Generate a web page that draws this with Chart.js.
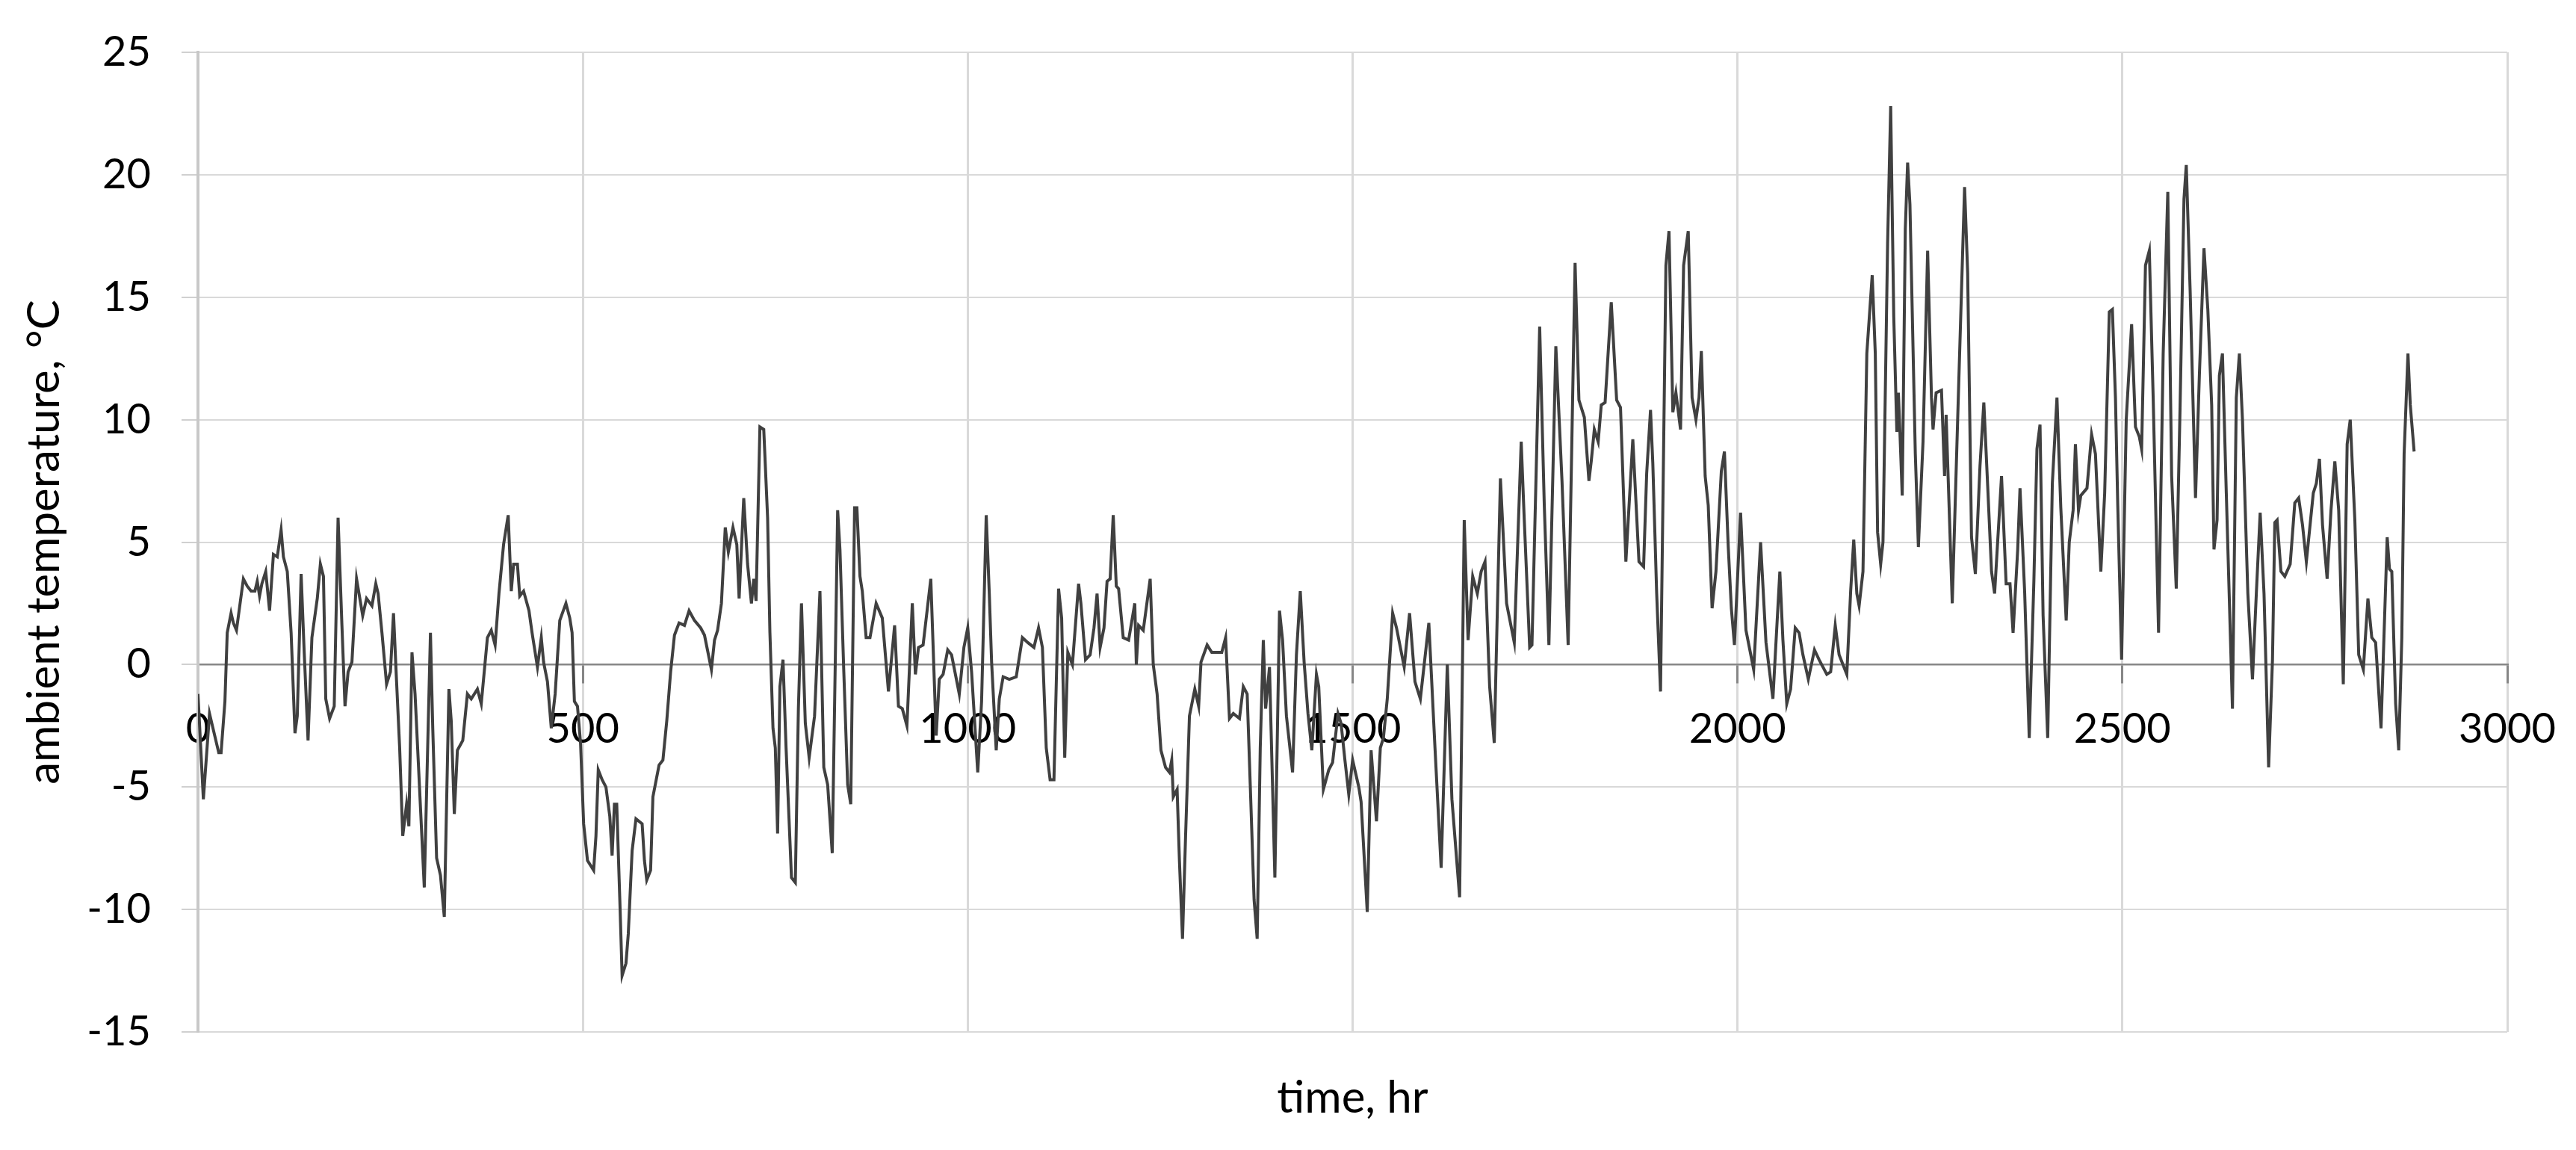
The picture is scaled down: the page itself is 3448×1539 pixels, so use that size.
<!DOCTYPE html>
<html>
<head>
<meta charset="utf-8">
<script src="https://cdn.jsdelivr.net/npm/chart.js@4.4.1/dist/chart.umd.min.js"></script>
<style>
html,body{margin:0;padding:0;background:#ffffff;}
canvas{display:block;}
</style>
</head>
<body>
<canvas id="c" width="3448" height="1539" style="width:3448px;height:1539px"></canvas>
<script>
// ---- data (time in hr, ambient temperature in °C) ----
const hoursA = [0,7,15,27,30, 35,38,43,46,50, 59,64,69,74,77, 80,83,88,93,98, 103,108,111,116,121, 126,129,134,138,143, 148,155,159,163,166, 171,177,182,187,191, 195,200,206,214,219, 226,231,234,239,245, 250,254,258,262,266, 271,274,278,282];
const tempsA = [-1.2,-5.5,-2.0,-3.6,-3.6, -1.5,1.3,2.1,1.7,1.4, 3.5,3.2,3.0,3.0,3.4, 2.8,3.3,3.8,2.2,4.5, 4.4,5.5,4.4,3.8,1.3, -2.8,-2.1,3.7,0.5,-3.1, 1.1,2.7,4.1,3.6,-1.4, -2.2,-1.7,6.0,1.6,-1.7, -0.3,0.1,3.5,2.0,2.7, 2.4,3.3,2.9,1.3,-0.8, -0.3,2.1,-0.7,-3.4,-7.0, -5.7,-6.6,0.5,-1.2];

const hoursB = [294,302,305,310,315, 320,326,329,333,337, 344,350,355,363,368, 376,381,386,391,397, 403,407,410,415,418, 423,430,434,441,446, 449,454,459,464,470, 478,483,486,489,493, 497,501,506,514,517, 520,525,530,535,538, 541,544,548,551,556, 559,564,569,577,580, 583];
const tempsB = [-9.1,1.3,-2.6,-7.9,-8.6, -10.3,-1.0,-2.3,-6.1,-3.5, -3.1,-1.2,-1.4,-1.0,-1.6, 1.1,1.4,0.8,2.9,4.9, 6.1,3.0,4.1,4.1,2.8, 3.0,2.2,1.3,-0.1,1.1, 0.1,-0.7,-2.6,-1.2,1.8, 2.5,1.9,1.3,-1.5,-1.7, -3.2,-6.5,-8.0,-8.4,-7.0, -4.3,-4.7,-5.0,-6.2,-7.8, -5.7,-5.7,-9.6,-12.7,-12.2, -11.0,-7.6,-6.3,-6.5,-8.0, -8.8];

const hoursC = [588,591,599,604,609, 614,619,625,632,638, 645,653,658,667,671, 675,680,685,689,695, 700,703,709,714,719, 722,725,730,735,740, 743,747,750,753,756, 760,764,771,776,780, 784,789,794,801,808, 813,818,824,831,834, 839,844,848,853,856, 860,863,868,873,881, 889];
const tempsC = [-8.4,-5.4,-4.1,-3.9,-2.3, -0.3,1.2,1.7,1.6,2.2, 1.8,1.5,1.2,-0.2,1.0, 1.4,2.5,5.6,4.6,5.6, 4.9,2.7,6.8,4.1,2.5, 3.5,2.6,9.7,9.6,6.0, 1.3,-2.6,-3.4,-6.9,-0.9, 0.2,-3.4,-8.7,-8.9,-1.8, 2.5,-2.4,-3.8,-2.1,3.0, -4.2,-4.9,-7.7,6.3,4.7, -0.3,-4.9,-5.7,6.4,6.4, 3.6,3.0,1.1,1.1,2.5, 1.9];

const hoursD = [897,905,910,915,921, 928,932,936,942,952, 959,963,968,974,979, 989,995,1000,1005,1013, 1018,1024,1028,1031,1037, 1041,1046,1054,1063,1071, 1078,1086,1092,1097,1102, 1107,1112,1118,1122,1126, 1130,1136,1144,1147,1153, 1159,1164,1168,1172,1177, 1181,1185,1189];
const tempsD = [-1.1,1.6,-1.7,-1.8,-2.5, 2.5,-0.4,0.7,0.8,3.5, -2.9,-0.6,-0.4,0.6,0.4, -1.2,0.7,1.5,-0.3,-4.4, -1.5,6.1,2.9,0.1,-3.5, -1.4,-0.5,-0.6,-0.5,1.1, 0.9,0.7,1.5,0.7,-3.4, -4.7,-4.7,3.1,1.9,-3.8, 0.5,0.0,3.3,2.5,0.2, 0.4,1.5,2.9,0.7,1.5, 3.4,3.5,6.1];

const hoursE = [1193,1196,1202,1209,1217, 1219,1222,1228,1237,1241, 1246,1251,1257,1262,1265, 1267,1272,1275,1279,1283, 1288,1295,1300,1303,1311, 1317,1325,1330,1335,1340, 1345,1353,1358,1363,1367, 1372,1376,1380,1384,1387, 1392,1399,1405,1409,1414, 1422,1427,1432,1437,1442, 1447,1453,1456,1462,1469, 1474,1481,1485,1490];
const tempsE = [3.2,3.1,1.1,1.0,2.5, 0.0,1.6,1.4,3.5,0.0, -1.2,-3.5,-4.2,-4.4,-3.9, -5.4,-5.1,-8.0,-11.2,-7.0, -2.1,-1.0,-1.7,0.1,0.8, 0.5,0.5,0.5,1.1,-2.2, -2.0,-2.2,-0.9,-1.2,-4.9, -9.6,-11.2,-3.4,1.0,-1.8, -0.1,-8.7,2.2,1.0,-2.1, -4.4,0.4,3.0,0.1,-2.0, -3.5,-0.4,-0.9,-5.1,-4.3, -4.0,-2.0,-2.4,-3.9];

const hoursF = [1495,1500,1508,1511,1519, 1524,1531,1536,1540,1545, 1552,1557,1567,1574,1581, 1588,1599,1607,1615,1623, 1629,1639,1645,1650,1656, 1662,1667,1672,1678,1684, 1692,1700,1710,1719,1723, 1730,1733,1743,1749,1755, 1764,1772,1780,1789];
const tempsF = [-5.3,-3.9,-5.0,-5.6,-10.1, -3.5,-6.4,-3.4,-3.0,-1.4, 2.1,1.5,-0.1,2.1,-0.7, -1.4,1.7,-3.4,-8.3,0.0, -5.5,-9.5,5.9,1.0,3.6, 2.9,3.8,4.2,-0.9,-3.2, 7.6,2.5,0.9,9.1,5.9, 0.7,0.8,13.8,6.5,0.8, 13.0,7.5,0.8,16.4];

const hoursG = [1794,1801,1807,1810,1814, 1819,1823,1828,1836,1843, 1848,1855,1864,1872,1878, 1882,1887,1890,1895,1900, 1907,1911,1916,1920,1926, 1930,1936,1941,1946,1950, 1953,1958,1962,1967,1972, 1979,1983,1988,1992,1996, 2004,2011,2021,2030,2037, 2046,2055,2059,2064,2069, 2075,2080,2085,2092];
const tempsG = [10.8,10.1,7.5,8.3,9.6, 9.1,10.6,10.7,14.8,10.8, 10.5,4.2,9.2,4.2,4.0, 7.8,10.4,8.2,2.9,-1.1, 16.3,17.7,10.3,11.1,9.6, 16.3,17.7,10.9,10.0,10.9, 12.8,7.7,6.5,2.3,3.8, 7.9,8.7,4.8,2.3,0.8, 6.2,1.4,-0.2,5.0,0.9, -1.4,3.8,1.0,-1.6,-1.0, 1.5,1.3,0.4,-0.6];

const hoursH = [2100,2106,2116,2121,2127, 2132,2142,2147,2151,2155, 2158,2163,2168,2175,2179, 2182,2186,2189,2195,2199, 2203,2207,2209,2211,2214, 2218,2221,2224,2231,2235, 2241,2247,2252,2254,2258, 2265,2269,2271,2279,2286, 2295,2299,2304,2309,2315, 2320,2325,2330,2334,2343, 2349,2354,2358,2364,2367, 2373,2379,2385,2389,2393];
const tempsH = [0.6,0.2,-0.4,-0.3,1.6, 0.4,-0.4,3.0,5.1,2.9, 2.4,3.8,12.7,15.9,12.7, 5.4,4.1,5.0,17.2,22.8, 14.2,9.5,11.1,9.5,6.9, 17.8,20.5,18.8,8.6,4.8, 9.1,16.9,10.9,9.6,11.1, 11.2,7.7,10.2,2.5,10.0, 19.5,16.0,5.2,3.7,8.1, 10.7,7.3,3.8,2.9,7.7, 3.3,3.3,1.3,4.7,7.2, 3.0,-3.0,3.4,8.8,9.8];

const hoursI = [2397,2403,2409,2415,2420, 2427,2431,2436,2439,2443, 2446,2454,2460,2465,2472, 2477,2483,2487,2491,2494, 2499,2505,2512,2517,2522, 2525,2530,2535,2540,2547, 2553,2559,2564,2570,2575, 2580,2583,2588,2595,2600, 2606,2611,2616,2619,2623, 2626,2630,2635,2643,2648, 2652,2656,2663,2669,2674, 2679,2684,2690];
const tempsI = [2.0,-3.0,7.4,10.9,6.4, 1.8,5.0,6.3,9.0,6.3, 6.9,7.2,9.4,8.6,3.8, 7.0,14.4,14.5,10.9,6.5, 0.2,10.0,13.9,9.7,9.3, 8.8,16.3,16.9,10.9,1.3, 12.7,19.3,7.7,3.1,10.6, 19.0,20.4,15.3,6.8,11.8, 17.0,14.5,10.6,4.7,5.9, 11.8,12.7,7.0,-1.8,10.9, 12.7,10.0,2.9,-0.6,2.9, 6.2,2.9,-4.2];

const hoursJ = [2695,2698,2701,2706,2711, 2718,2724,2729,2734,2739, 2748,2752,2756,2760,2766, 2771,2776,2781,2787,2792, 2796,2802,2807,2813,2819, 2824,2829,2836,2844,2847, 2850,2855,2859,2863,2866, 2871,2874,2879];
const tempsJ = [0.2,5.8,5.9,3.8,3.6, 4.1,6.6,6.8,5.7,4.2, 7.0,7.4,8.4,5.7,3.5, 6.3,8.3,6.3,-0.8,9.0, 10.0,5.9,0.4,-0.2,2.7, 1.1,0.9,-2.6,5.2,3.9, 3.8,-1.6,-3.5,1.1,8.6, 12.7,10.6,8.7];

const xTicks = [0, 500, 1000, 1500, 2000, 2500, 3000];
const yTicks = [-15, -10, -5, 0, 5, 10, 15, 20, 25];
const xTitle = 'time, hr';
const yTitle = 'ambient temperature, °C';

// ---- build series ----
const hours = [].concat(hoursA, hoursB, hoursC, hoursD, hoursE, hoursF, hoursG, hoursH, hoursI, hoursJ);
const temps = [].concat(tempsA, tempsB, tempsC, tempsD, tempsE, tempsF, tempsG, tempsH, tempsI, tempsJ);
const points = hours.map((h, i) => ({ x: h, y: temps[i] }));

const FONT = 'Lato, "Open Sans", "DejaVu Sans", sans-serif';

new Chart(document.getElementById('c').getContext('2d'), {
  type: 'line',
  data: {
    datasets: [{
      data: points,
      borderColor: '#404040',
      borderWidth: 4,
      pointRadius: 0,
      tension: 0,
      fill: false
    }]
  },
  options: {
    responsive: false,
    animation: false,
    devicePixelRatio: 1,
    layout: { padding: { top: 70, right: 92, bottom: 0, left: 0 } },
    plugins: { legend: { display: false }, tooltip: { enabled: false } },
    scales: {
      x: {
        type: 'linear',
        position: { y: 0 },
        min: xTicks[0],
        max: xTicks[xTicks.length - 1],
        afterBuildTicks: s => { s.ticks = xTicks.map(v => ({ value: v })); },
        ticks: {
          font: { family: FONT, size: 56 },
          color: '#000000',
          padding: 29,
          maxRotation: 0,
          autoSkip: false,
          callback: v => String(v)
        },
        grid: { color: '#d9d9d9', lineWidth: 3, tickColor: '#868686', tickLength: 24, drawTicks: true },
        border: { display: true, color: '#868686', width: 2.5 },
        afterFit: s => { s.paddingLeft = 0; s.paddingRight = 0; }
      },
      y: {
        type: 'linear',
        position: 'left',
        min: yTicks[0],
        max: yTicks[yTicks.length - 1],
        afterBuildTicks: s => { s.ticks = yTicks.map(v => ({ value: v })); },
        ticks: {
          font: { family: FONT, size: 56 },
          color: '#000000',
          padding: 41,
          callback: v => String(v)
        },
        grid: { color: '#d9d9d9', lineWidth: 2, tickColor: '#d0d0d0', tickLength: 22 },
        border: { display: true, color: '#c8c8c8', width: 4 },
        title: {
          display: true,
          text: yTitle,
          color: '#000000',
          font: { family: FONT, size: 60 },
          padding: { top: 24, bottom: 0 }
        },
        afterFit: s => { s.width = 265; s.paddingTop = 0; s.paddingBottom = 0; }
      },
      xt: {
        type: 'linear',
        axis: 'x',
        position: 'bottom',
        min: xTicks[0],
        max: xTicks[xTicks.length - 1],
        grid: { display: false, drawTicks: false },
        ticks: { display: false },
        border: { display: false },
        title: {
          display: true,
          text: xTitle,
          color: '#000000',
          font: { family: FONT, size: 60 },
          padding: { top: 53, bottom: 33 }
        },
        afterFit: s => { s.height = 158; s.paddingLeft = 0; s.paddingRight = 0; }
      }
    }
  }
});
</script>
</body>
</html>
